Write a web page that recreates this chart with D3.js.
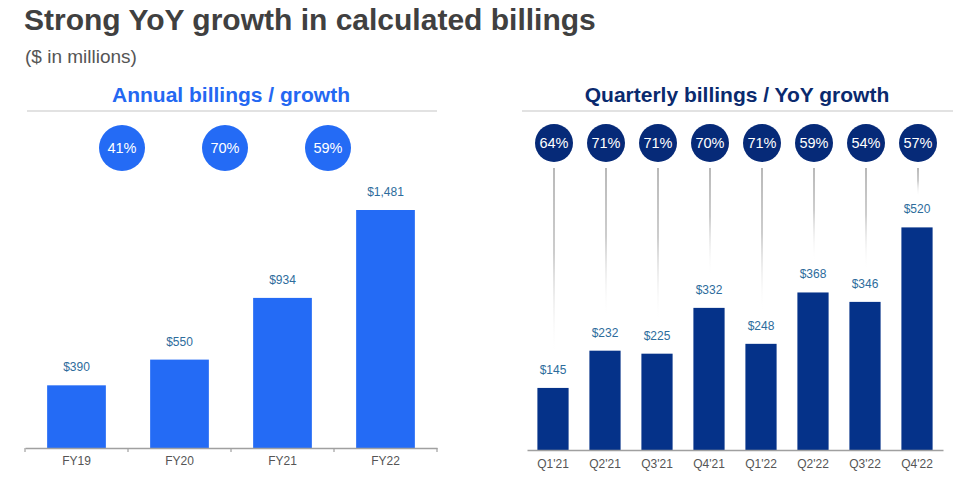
<!DOCTYPE html>
<html><head><meta charset="utf-8">
<script src="https://cdn.jsdelivr.net/npm/d3@7/dist/d3.min.js"></script>
<style>body{margin:0;background:#fff;}svg{display:block;font-family:"Liberation Sans",Arial,sans-serif;}</style>
</head><body>
<svg id="chart" width="979" height="482"></svg>
<script>
const annualCategories = ["FY19","FY20","FY21","FY22"];
const annualValues = [390,550,934,1481];
const annualGrowth = [41,70,59];
const quarterCategories = ["Q1'21","Q2'21","Q3'21","Q4'21","Q1'22","Q2'22","Q3'22","Q4'22"];
const quarterValues = [145,232,225,332,248,368,346,520];
const quarterGrowth = [64,71,71,70,71,59,54,57];

const svg = d3.select("#chart");
const fmt = d3.format(",");

svg.append("text").attr("x",24).attr("y",30).attr("font-size",30).attr("font-weight","bold")
  .attr("fill","#404040").text("Strong YoY growth in calculated billings");
svg.append("text").attr("x",25).attr("y",63).attr("font-size",19).attr("fill","#555")
  .text("($ in millions)");

// Section headers
svg.append("text").attr("x",231).attr("y",102).attr("text-anchor","middle").attr("font-size",21)
  .attr("font-weight","bold").attr("fill","#2468f2").text("Annual billings / growth");
svg.append("line").attr("x1",27).attr("x2",437).attr("y1",111).attr("y2",111)
  .attr("stroke","#e2e2e2").attr("stroke-width",2);
svg.append("text").attr("x",737).attr("y",102).attr("text-anchor","middle").attr("font-size",21)
  .attr("font-weight","bold").attr("fill","#0a2a6e").text("Quarterly billings / YoY growth");
svg.append("line").attr("x1",522).attr("x2",953).attr("y1",111).attr("y2",111)
  .attr("stroke","#e2e2e2").attr("stroke-width",2);

// ---- Annual chart
const xA = d3.scaleBand().domain(annualCategories).range([25,437]).paddingInner(0.43).paddingOuter(0.215);
const yA = d3.scaleLinear().domain([0,1481]).range([448,210]);
const gA = svg.append("g");
gA.selectAll("rect").data(annualValues).join("rect")
  .attr("x",(d,i)=>xA(annualCategories[i])).attr("width",xA.bandwidth())
  .attr("y",d=>yA(d)).attr("height",d=>yA(0)-yA(d)).attr("fill","#246bf5");
gA.selectAll("text.val").data(annualValues).join("text").attr("class","val")
  .attr("x",(d,i)=>xA(annualCategories[i])+xA.bandwidth()/2).attr("y",d=>yA(d)-14)
  .attr("text-anchor","middle").attr("font-size",12).attr("fill","#2d6c9c").text(d=>"$"+fmt(d));
const axA = d3.axisBottom(xA).tickSize(0).tickPadding(8);
const axisA = svg.append("g").attr("transform","translate(0,448)").call(axA);
axisA.select(".domain").attr("stroke","#a0a0a0").attr("stroke-width",1.3);
axisA.selectAll("text").attr("font-size",12).attr("fill","#555").attr("font-family","Liberation Sans, Arial, sans-serif");
// boundary ticks
const stepA = xA.step();
const bounds = d3.range(annualCategories.length+1).map(i=>xA.range()[0]+i*stepA);
svg.append("g").selectAll("line").data(bounds).join("line")
  .attr("x1",d=>d).attr("x2",d=>d).attr("y1",448).attr("y2",452).attr("stroke","#a0a0a0").attr("stroke-width",1.2);
// growth circles
const gcA = svg.append("g").selectAll("g").data(annualGrowth).join("g")
  .attr("transform",(d,i)=>`translate(${xA(annualCategories[i+1]) - xA.step()*xA.paddingInner()/2 - 6},148)`);
gcA.append("circle").attr("r",23).attr("fill","#246bf5");
gcA.append("text").attr("text-anchor","middle").attr("dy","0.35em").attr("font-size",14.5).attr("fill","#fff").text(d=>d+"%");

// ---- Quarterly chart
const xQ = d3.scaleBand().domain(quarterCategories).range([527,943]).paddingInner(0.4).paddingOuter(0.2);
const yQ = d3.scaleLinear().domain([0,520]).range([450,227.4]);
const defs = svg.append("defs");
const grad = defs.append("linearGradient").attr("id","fade").attr("x1",0).attr("x2",0).attr("y1",0).attr("y2",1);
grad.append("stop").attr("offset",0).attr("stop-color","#b9b9b9");
grad.append("stop").attr("offset",0.45).attr("stop-color","#cdcdcd");
grad.append("stop").attr("offset",1).attr("stop-color","#ffffff").attr("stop-opacity",0);
const gQ = svg.append("g");
gQ.selectAll("rect.conn").data(quarterValues).join("rect").attr("class","conn")
  .attr("x",(d,i)=>xQ(quarterCategories[i])+xQ.bandwidth()/2).attr("width",2)
  .attr("y",168).attr("height",d=>Math.max(0,yQ(d)-15-16-168)).attr("fill","url(#fade)");
gQ.selectAll("rect.bar").data(quarterValues).join("rect").attr("class","bar")
  .attr("x",(d,i)=>xQ(quarterCategories[i])).attr("width",xQ.bandwidth())
  .attr("y",d=>yQ(d)).attr("height",d=>yQ(0)-yQ(d)).attr("fill","#053289");
gQ.selectAll("text.val").data(quarterValues).join("text").attr("class","val")
  .attr("x",(d,i)=>xQ(quarterCategories[i])+xQ.bandwidth()/2).attr("y",d=>yQ(d)-14)
  .attr("text-anchor","middle").attr("font-size",12).attr("fill","#2d6c9c").text(d=>"$"+fmt(d));
const axQ = d3.axisBottom(xQ).tickSize(0).tickPadding(9);
const axisQ = svg.append("g").attr("transform","translate(0,450)").call(axQ);
axisQ.select(".domain").attr("stroke","#a0a0a0").attr("stroke-width",1.3);
axisQ.selectAll("text").attr("font-size",12).attr("fill","#555").attr("font-family","Liberation Sans, Arial, sans-serif");
const gcQ = svg.append("g").selectAll("g").data(quarterGrowth).join("g")
  .attr("transform",(d,i)=>`translate(${xQ(quarterCategories[i])+xQ.bandwidth()/2+1},143)`);
gcQ.append("circle").attr("r",19).attr("fill","#062a78");
gcQ.append("text").attr("text-anchor","middle").attr("dy","0.35em").attr("font-size",14.5).attr("fill","#fff").text(d=>d+"%");
</script>
</body></html>
